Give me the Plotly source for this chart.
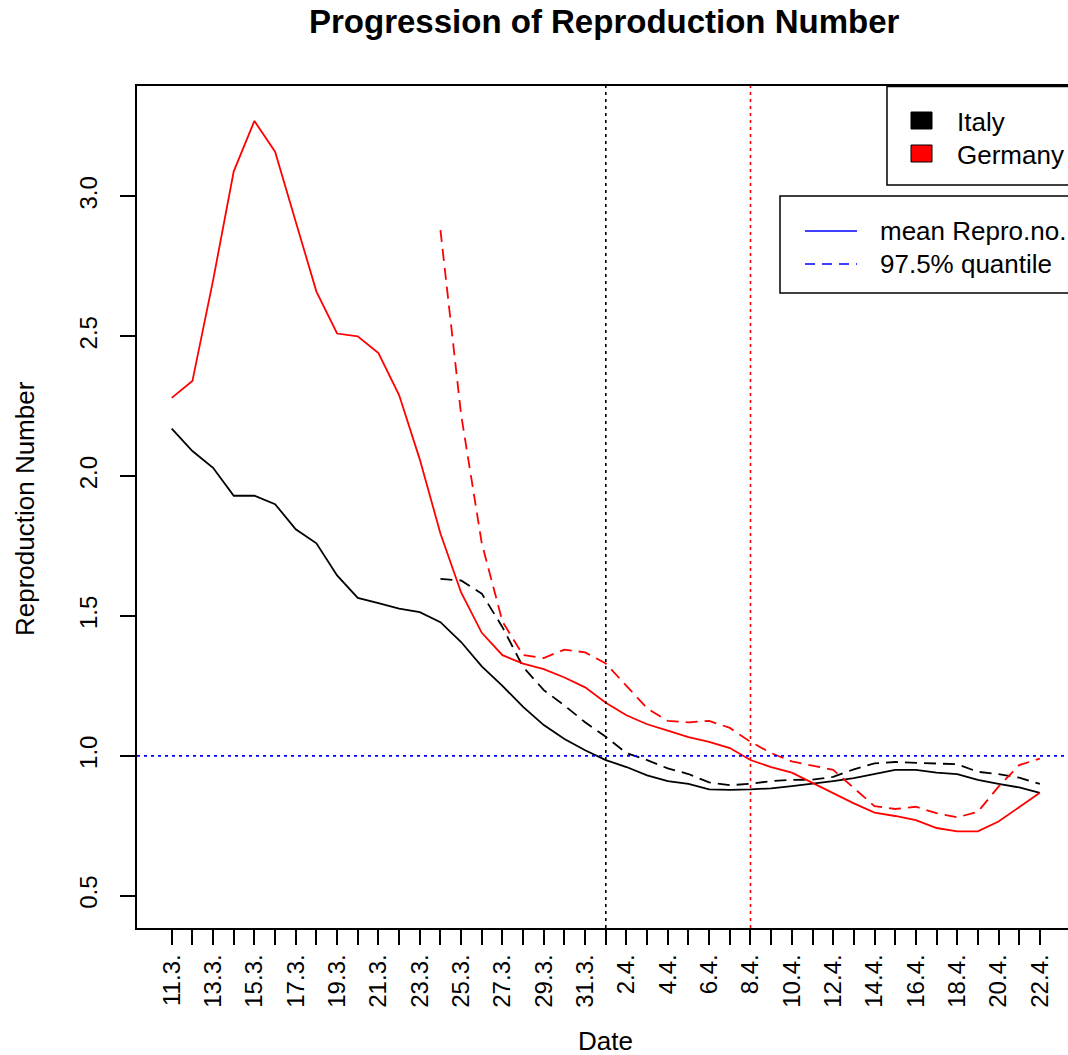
import plotly.graph_objects as go

# ---------------- data ----------------
dates = ["11.3.", "12.3.", "13.3.", "14.3.", "15.3.", "16.3.", "17.3.", "18.3.", "19.3.", "20.3.",
         "21.3.", "22.3.", "23.3.", "24.3.", "25.3.", "26.3.", "27.3.", "28.3.", "29.3.", "30.3.",
         "31.3.", "1.4.", "2.4.", "3.4.", "4.4.", "5.4.", "6.4.", "7.4.", "8.4.", "9.4.",
         "10.4.", "11.4.", "12.4.", "13.4.", "14.4.", "15.4.", "16.4.", "17.4.", "18.4.", "19.4.",
         "20.4.", "21.4.", "22.4."]

italy_mean = [2.17, 2.09, 2.03, 1.93, 1.93, 1.90, 1.81, 1.76, 1.645, 1.565,
              1.546, 1.526, 1.514, 1.478, 1.407, 1.32, 1.25, 1.175, 1.11, 1.06,
              1.02, 0.985, 0.96, 0.93, 0.91, 0.90, 0.88, 0.878, 0.88, 0.884,
              0.892, 0.90, 0.91, 0.92, 0.935, 0.95, 0.95, 0.94, 0.935, 0.914,
              0.90, 0.887, 0.868]

# 97.5% quantile, available from 24.3. onward
italy_q975 = [1.633, 1.627, 1.58, 1.46, 1.318, 1.235, 1.18, 1.12, 1.068, 1.01,
              0.985, 0.955, 0.935, 0.905, 0.895, 0.90, 0.91, 0.914, 0.915, 0.925,
              0.952, 0.973, 0.978, 0.975, 0.973, 0.97, 0.943, 0.935, 0.922, 0.90]

germany_mean = [2.28, 2.34, 2.70, 3.09, 3.27, 3.16, 2.91, 2.66, 2.51, 2.50,
                2.44, 2.29, 2.06, 1.795, 1.584, 1.44, 1.36, 1.33, 1.31, 1.28,
                1.245, 1.19, 1.145, 1.113, 1.09, 1.067, 1.05, 1.028, 0.985, 0.96,
                0.94, 0.904, 0.867, 0.83, 0.797, 0.785, 0.77, 0.742, 0.73, 0.73,
                0.765, 0.818, 0.868]

germany_q975 = [2.88, 2.22, 1.76, 1.48, 1.36, 1.35, 1.38, 1.37, 1.33, 1.25,
                1.17, 1.125, 1.12, 1.125, 1.10, 1.05, 1.01, 0.98, 0.964, 0.95,
                0.885, 0.82, 0.81, 0.818, 0.795, 0.78, 0.80, 0.89, 0.967, 0.99]

quantile_start = 13          # index of 24.3.
italy_vline = "1.4."
germany_vline = "8.4."
threshold = 1.0
y_ticks = [0.5, 1.0, 1.5, 2.0, 2.5, 3.0]

# ---------------- figure ----------------
FONT = "Liberation Sans, Arial, sans-serif"
W, H = 1068, 1055
ML, MR, MT, MB = 137, 0, 86, 127

x_all = list(range(len(dates)))
x_q = x_all[quantile_start:]

fig = go.Figure()
line_w = 1.8
dash = "12px,7px"
fig.add_trace(go.Scatter(x=x_all, y=italy_mean, mode="lines",
                         line=dict(color="black", width=line_w), showlegend=False))
fig.add_trace(go.Scatter(x=x_q, y=italy_q975, mode="lines",
                         line=dict(color="black", width=line_w, dash=dash), showlegend=False))
fig.add_trace(go.Scatter(x=x_all, y=germany_mean, mode="lines",
                         line=dict(color="#FF0000", width=line_w), showlegend=False))
fig.add_trace(go.Scatter(x=x_q, y=germany_q975, mode="lines",
                         line=dict(color="#FF0000", width=line_w, dash=dash), showlegend=False))

dot = "3px,4px"
fig.add_hline(y=threshold, line=dict(color="#0000FF", width=1.6, dash=dot))
fig.add_vline(x=dates.index(italy_vline), line=dict(color="black", width=1.6, dash=dot))
fig.add_vline(x=dates.index(germany_vline), line=dict(color="#FF0000", width=1.6, dash=dot))

ticktext = [d if i % 2 == 0 else "" for i, d in enumerate(dates)]

px_day = 20.67
x_lo = -1.68
x_hi = x_lo + (W - ML - MR) / px_day

fig.update_xaxes(range=[x_lo, x_hi], tickmode="array", tickvals=x_all, ticktext=ticktext,
                 tickangle=-90, ticks="outside", ticklen=15, tickwidth=1.5, tickcolor="black",
                 showline=True, linecolor="black", linewidth=1.5, mirror=True,
                 showgrid=False, zeroline=False,
                 tickfont=dict(family=FONT, size=24, color="black"))
fig.update_yaxes(range=[0.3845, 3.395], tickmode="array", tickvals=y_ticks,
                 ticktext=[f"{v:.1f}" for v in y_ticks],
                 tickangle=-90, ticks="outside", ticklen=15, tickwidth=1.5, tickcolor="black",
                 showline=True, linecolor="black", linewidth=1.5, mirror=False,
                 showgrid=False, zeroline=False, ticklabelstandoff=14,
                 tickfont=dict(family=FONT, size=24, color="black"))

plot_w = W - ML - MR
plot_h = H - MT - MB

def px(xp):
    return (xp - ML) / plot_w

def py(yp):
    return (H - MB - yp) / plot_h

ann = []
ann.append(dict(text="<b>Progression of Reproduction Number</b>", x=px(604), y=py(22),
                xref="paper", yref="paper", showarrow=False, xanchor="center", yanchor="middle",
                font=dict(family=FONT, size=33, color="black")))
ann.append(dict(text="Date", x=px(605), y=py(1041), xref="paper", yref="paper", showarrow=False,
                xanchor="center", yanchor="middle", borderpad=0,
                font=dict(family=FONT, size=26, color="black")))
ann.append(dict(text="Reproduction Number", x=px(25), y=py(509), xref="paper", yref="paper",
                showarrow=False, textangle=-90, xanchor="center", yanchor="middle",
                font=dict(family=FONT, size=26, color="black")))

shapes = []
# legend 1 (countries)
shapes.append(dict(type="rect", xref="paper", yref="paper", x0=px(887), x1=px(1076),
                   y0=py(185), y1=py(86.5), line=dict(color="black", width=1.5), fillcolor="white",
                   layer="above"))
shapes.append(dict(type="rect", xref="paper", yref="paper", x0=px(911), x1=px(932),
                   y0=py(129), y1=py(112), line=dict(color="black", width=1), fillcolor="black"))
shapes.append(dict(type="rect", xref="paper", yref="paper", x0=px(911), x1=px(932),
                   y0=py(162), y1=py(145), line=dict(color="black", width=1), fillcolor="#FF0000"))
ann.append(dict(text="Italy", x=px(955), y=py(122), xref="paper", yref="paper", showarrow=False,
                xanchor="left", yanchor="middle", font=dict(family=FONT, size=26, color="black")))
ann.append(dict(text="Germany", x=px(955), y=py(155), xref="paper", yref="paper", showarrow=False,
                xanchor="left", yanchor="middle", font=dict(family=FONT, size=26, color="black")))
# legend 2 (line types)
shapes.append(dict(type="rect", xref="paper", yref="paper", x0=px(780), x1=px(1076),
                   y0=py(293), y1=py(196), line=dict(color="black", width=1.5), fillcolor="white",
                   layer="above"))
shapes.append(dict(type="line", xref="paper", yref="paper", x0=px(805), x1=px(857),
                   y0=py(231), y1=py(231), line=dict(color="#0000FF", width=1.5)))
shapes.append(dict(type="line", xref="paper", yref="paper", x0=px(805), x1=px(857),
                   y0=py(264), y1=py(264), line=dict(color="#0000FF", width=1.5, dash="10px,7px")))
ann.append(dict(text="mean Repro.no.", x=px(878), y=py(231), xref="paper", yref="paper",
                showarrow=False, xanchor="left", yanchor="middle",
                font=dict(family=FONT, size=26, color="black")))
ann.append(dict(text="97.5% quantile", x=px(878), y=py(264), xref="paper", yref="paper",
                showarrow=False, xanchor="left", yanchor="middle",
                font=dict(family=FONT, size=26, color="black")))

fig.update_layout(width=W, height=H, margin=dict(l=ML, r=MR, t=MT, b=MB, pad=0),
                  paper_bgcolor="white", plot_bgcolor="white",
                  annotations=ann, shapes=list(fig.layout.shapes) + shapes,
                  showlegend=False)

fig.write_html("out.html", config={"displayModeBar": False},
               post_script="document.body.style.margin='0';document.body.style.overflow='hidden';")
